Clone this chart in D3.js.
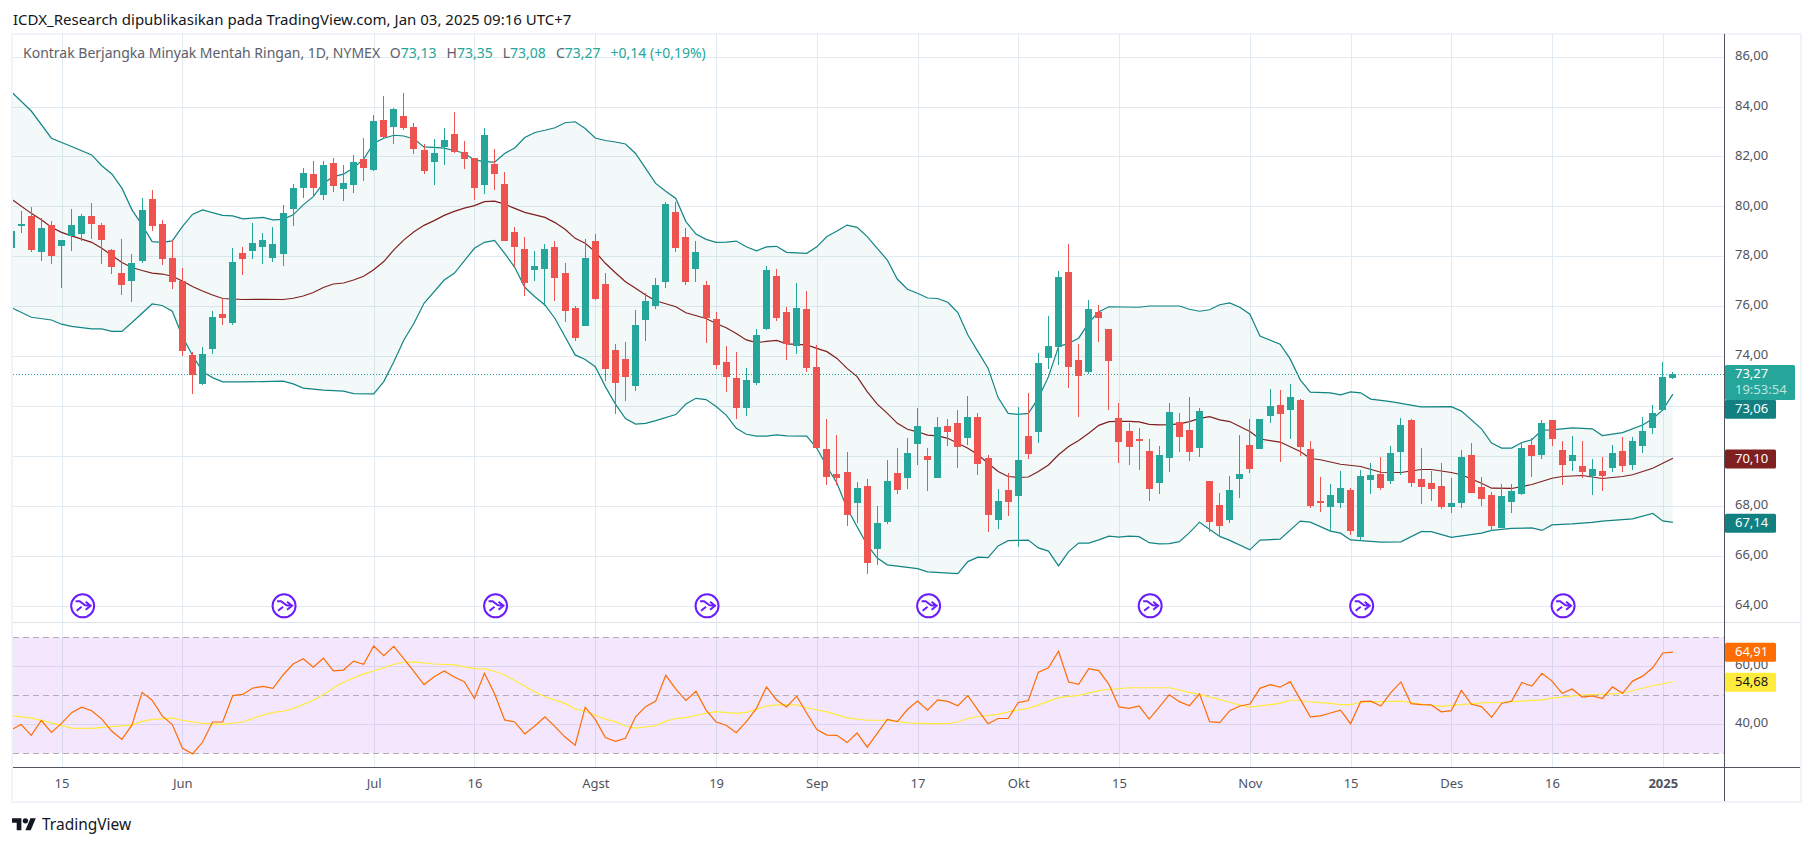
<!DOCTYPE html>
<html>
<head>
<meta charset="utf-8">
<script src="https://cdn.jsdelivr.net/npm/d3@7"></script>
<style>
  html, body { margin: 0; padding: 0; background: #fff; }
  text { font-family: "Noto Sans", sans-serif; }
</style>
</head>
<body>
<div id="chart"></div>
<script>
// daily candles, index 0 is the bar cut off by the left edge, 165 is Jan 03 2025
var opens = [78.32,79.26,79.62,78.19,79.24,78.42,78.82,78.90,79.62,79.26,78.26,77.33,77.01,77.82,80.30,79.30,77.94,77.01,74.05,72.89,
74.29,75.69,75.33,78.14,78.22,78.38,77.94,78.10,79.90,80.74,81.30,80.46,81.74,80.70,80.86,81.90,81.46,83.46,83.18,83.62,
83.18,82.26,81.78,82.38,82.90,82.18,81.94,80.86,81.70,80.89,78.97,78.29,77.45,77.49,78.37,77.33,75.93,75.21,78.61,76.89,
74.25,73.89,72.80,75.45,76.01,76.97,79.77,78.77,77.49,76.85,75.49,73.76,73.12,71.92,72.92,75.09,77.21,75.77,74.41,75.89,
73.57,70.29,69.28,69.36,68.12,68.80,66.28,67.36,69.32,69.12,70.49,70.01,69.12,71.21,71.33,70.73,71.57,69.93,67.44,68.64,
68.40,70.81,70.97,73.93,74.37,77.37,73.85,73.37,75.77,75.09,71.53,71.01,70.70,70.21,68.92,69.93,71.37,71.05,70.33,69.01,
68.05,67.44,69.09,70.45,70.29,71.61,72.05,71.85,72.25,70.29,68.19,67.97,68.13,68.65,66.76,69.05,69.29,69.01,70.17,71.45,
69.09,68.93,68.81,67.97,68.13,70.05,68.77,68.45,67.12,68.17,68.49,70.45,70.05,71.45,70.25,69.81,69.61,69.21,69.41,69.53,
70.21,69.65,70.41,71.13,71.85,73.13];
var highs = [79.20,79.82,79.97,79.52,79.40,78.66,79.89,79.68,80.13,79.32,78.30,78.70,78.08,80.34,80.66,79.46,78.66,77.54,74.16,74.37,
75.81,76.32,78.34,78.38,79.34,78.94,79.18,80.06,80.90,81.54,81.82,81.82,81.94,81.66,82.06,82.74,83.66,84.42,83.93,84.54,
83.33,82.49,82.70,83.14,83.78,82.62,81.94,83.14,82.30,81.37,79.17,78.77,78.21,78.49,78.61,77.73,76.01,78.69,78.89,77.33,
74.49,74.57,75.85,76.53,77.13,80.17,80.17,79.13,78.61,77.01,75.77,74.41,74.17,73.52,75.09,77.61,77.49,75.97,76.93,76.61,
74.45,71.49,70.85,70.17,68.96,69.08,68.00,69.85,70.33,70.73,71.93,70.33,71.57,71.49,71.85,72.41,71.73,70.05,68.68,69.32,
71.97,72.53,74.13,75.61,77.41,78.49,74.49,76.25,76.05,75.09,72.13,71.33,71.13,70.69,70.41,72.13,71.73,72.37,71.92,69.01,
68.53,69.21,70.85,71.49,71.49,72.69,72.65,72.89,72.29,70.62,69.17,68.89,69.41,68.73,69.45,69.74,69.97,70.41,71.53,71.49,
70.33,69.41,69.71,69.13,70.25,70.53,69.17,68.57,68.89,68.89,70.57,70.73,71.45,71.45,70.60,70.81,70.61,69.89,69.97,70.45,
70.77,70.77,71.57,72.05,73.77,73.35];
var lows = [78.20,78.95,78.19,77.83,77.70,76.75,78.23,78.63,78.70,77.70,77.30,76.45,76.17,77.72,79.03,77.66,76.69,74.01,72.49,72.85,
74.09,75.25,75.25,77.25,77.90,77.70,77.78,77.62,79.22,80.34,80.38,80.26,80.58,80.22,80.54,81.02,81.43,82.73,82.50,83.06,
82.10,81.30,80.86,81.66,82.14,81.50,80.26,80.50,80.66,78.61,77.58,76.41,77.01,76.01,76.21,75.37,74.61,75.21,76.25,73.00,
71.68,72.20,72.60,74.61,75.89,76.73,78.17,76.85,76.97,74.53,73.48,72.56,71.48,71.60,72.84,75.05,75.41,73.85,74.09,73.36,
70.33,68.84,68.84,67.20,67.32,65.28,65.64,67.28,68.48,68.68,69.64,68.60,69.12,70.41,69.52,70.45,69.24,66.96,67.08,67.60,
66.36,69.89,70.53,73.49,73.65,72.73,71.57,73.29,74.57,71.85,69.73,69.64,69.44,68.20,68.48,69.36,70.17,69.80,69.97,66.96,
66.76,67.32,68.33,69.33,70.29,71.33,69.77,70.69,70.01,67.93,67.77,66.96,67.93,66.84,66.60,68.49,68.65,68.89,69.25,68.77,
68.09,68.21,67.89,67.73,67.93,68.53,68.00,67.00,67.12,67.73,68.45,69.17,69.89,70.41,68.85,69.41,69.13,68.45,68.61,69.37,
69.37,69.45,70.13,70.89,71.85,73.08];
var closes = [79.02,79.30,78.26,79.14,78.02,78.66,79.24,79.62,79.30,78.66,77.58,76.85,77.73,79.86,79.22,77.90,76.97,74.21,73.26,74.09,
75.57,75.53,77.78,77.90,78.54,78.66,78.50,79.74,80.74,81.34,80.74,81.66,80.82,80.94,81.78,81.54,83.42,82.78,83.89,83.14,
82.30,81.42,82.14,82.66,82.18,81.90,80.74,82.86,81.30,78.61,78.37,76.93,77.61,78.29,77.13,75.81,74.73,77.93,76.29,73.48,
72.92,73.16,75.25,76.21,76.85,80.09,78.33,76.97,78.17,75.53,73.64,73.16,71.92,73.04,74.85,77.45,75.53,74.49,75.93,73.52,
70.33,69.16,69.12,67.64,68.72,65.72,67.32,69.00,68.64,70.13,71.21,69.85,71.17,70.97,70.37,71.57,69.68,67.64,68.20,68.16,
69.85,70.09,73.73,74.41,77.17,73.57,73.21,75.89,75.53,73.81,70.57,70.37,70.66,68.68,70.05,71.77,70.77,70.17,71.81,67.36,
67.20,68.65,69.29,69.49,71.49,72.01,71.69,72.37,70.37,68.00,68.13,68.45,68.73,67.00,69.21,69.25,68.73,70.13,71.25,68.93,
68.77,68.69,67.97,68.12,69.97,68.53,68.29,67.20,68.41,68.61,70.33,70.01,71.33,70.69,69.65,70.05,69.37,69.49,69.21,70.13,
69.61,70.61,71.01,71.73,73.17,73.27];

// bollinger lines, [bar index, price] at the corners that can be read
var bbUpper = [[0,84.6],[2,83.82],[4,82.73],[6,82.40],[8,82.06],[9,81.63],[10,81.30],[11,80.73],[12,79.86],[13,79.26],[14,78.59],[15,78.56],[16,78.62],[17,79.19],[18,79.68],[19,79.86],[21,79.64],[22,79.62],[23,79.50],[25,79.56],[26,79.46],[27,79.48],[28,79.66],[29,80.06],[30,80.39],[31,80.93],[32,81.19],[33,81.29],[34,81.55],[35,81.89],[36,82.53],[37,82.73],[38,82.85],[39,82.82],[40,82.70],[41,82.38],[42,82.36],[43,82.33],[44,82.24],[45,82.13],[46,81.86],[47,81.79],[48,81.77],
[49,82.12],[50,82.34],[51,82.76],[52,82.96],[53,83.05],[54,83.15],[55,83.35],[56,83.39],[57,83.12],[58,82.74],[59,82.64],[60,82.58],[61,82.50],[62,82.12],[63,81.52],[64,80.92],[65,80.61],[66,80.32],[67,79.39],[68,78.89],[69,78.68],[70,78.56],[71,78.57],[72,78.61],[73,78.38],[74,78.22],[75,78.38],[76,78.40],[77,78.16],[79,78.12],[80,78.38],[81,78.79],[82,79.01],[83,79.25],[84,79.16],[85,78.79],[86,78.32],[87,77.85],[88,77.08],[89,76.68],[90,76.52],[91,76.33],[92,76.31],[93,76.16],[94,75.75],[95,74.85],[96,74.18],[97,73.52],[98,72.34],[99,71.71],[100,71.67],[101,71.71],[102,72.32],[103,73.18],[104,74.38],[105,74.52],[106,74.72],[107,75.34],[108,75.78],[109,75.98],[112,75.96],[113,76.01],[116,76.01],[117,75.88],[118,75.80],[119,75.86],[120,76.06],[121,76.13],[122,75.96],[123,75.68],[124,74.81],[126,74.48],[127,73.89],[128,73.05],[129,72.56],[131,72.53],[132,72.45],[133,72.57],[134,72.53],[135,72.28],[137,72.18],[140,71.97],[143,71.98],[144,71.80],[146,71.09],[147,70.52],[148,70.32],[149,70.32],[150,70.54],[151,70.65],[152,71.04],[153,71.05],[155,71.13],[157,71.09],[158,70.82],[160,70.94],[162,71.24],[163,71.49],[164,71.85],[165,72.48]];
var bbBasis = [[0,80.3],[2,79.72],[3,79.46],[4,79.16],[5,78.96],[6,78.82],[8,78.56],[9,78.32],[11,77.75],[12,77.55],[13,77.43],[14,77.33],[15,77.29],[16,77.20],[17,77.01],[18,76.79],[19,76.61],[20,76.45],[21,76.31],[22,76.29],[23,76.27],[25,76.28],[27,76.27],[28,76.32],[29,76.41],[30,76.55],[31,76.75],[32,76.89],[33,76.93],[34,77.05],[35,77.20],[36,77.46],[37,77.79],[38,78.26],[39,78.66],[40,78.98],[41,79.24],[42,79.43],[43,79.64],[44,79.80],[45,79.93],[46,80.03],[47,80.19],[48,80.21],
[49,80.09],[50,79.92],[51,79.76],[53,79.56],[54,79.35],[55,79.08],[56,78.72],[57,78.52],[58,78.18],[59,77.72],[60,77.34],[61,76.98],[62,76.72],[63,76.45],[64,76.22],[66,75.98],[67,75.74],[69,75.51],[70,75.31],[71,75.14],[72,74.91],[73,74.65],[74,74.54],[75,74.59],[76,74.63],[77,74.49],[79,74.45],[80,74.31],[81,74.18],[82,73.91],[83,73.51],[84,73.18],[85,72.58],[86,72.08],[87,71.71],[88,71.31],[89,71.07],[90,70.97],[91,70.84],[92,70.81],[93,70.71],[94,70.51],[95,70.31],[96,70.05],[97,69.71],[98,69.38],[99,69.18],[100,69.14],[101,69.16],[102,69.38],[103,69.64],[104,70.05],[105,70.38],[106,70.62],[107,70.91],[108,71.23],[109,71.38],[110,71.39],[111,71.39],[112,71.37],[113,71.27],[114,71.25],[115,71.26],[116,71.29],[117,71.38],[118,71.51],[119,71.58],[120,71.45],[121,71.38],[123,70.98],[124,70.68],[126,70.56],[128,70.18],[129,69.90],[130,69.85],[132,69.67],[134,69.58],[136,69.35],[138,69.34],[140,69.46],[141,69.46],[143,69.34],[144,69.25],[146,68.91],[147,68.71],[149,68.70],[151,68.86],[153,69.11],[154,69.18],[156,69.22],[158,69.10],[160,69.18],[161,69.25],[163,69.51],[165,69.91]];
var bbLower = [[0,75.95],[2,75.56],[4,75.45],[5,75.28],[6,75.19],[8,75.09],[9,75.09],[10,74.99],[11,74.99],[12,75.35],[14,76.09],[15,76.03],[16,75.80],[17,74.79],[18,74.04],[19,73.38],[20,73.14],[21,72.97],[23,72.97],[25,72.98],[27,73.00],[28,72.89],[29,72.72],[31,72.64],[33,72.60],[34,72.50],[36,72.49],[37,72.98],[38,73.78],[39,74.65],[40,75.32],[41,76.12],[43,77.05],[44,77.32],[46,78.32],[47,78.56],[48,78.64],
[49,78.12],[50,77.56],[51,76.76],[52,76.38],[53,76.05],[54,75.51],[55,74.78],[56,74.05],[57,73.87],[58,73.58],[59,72.78],[60,72.08],[61,71.50],[62,71.28],[63,71.31],[64,71.42],[66,71.66],[67,72.08],[68,72.31],[69,72.26],[70,71.98],[71,71.64],[72,71.11],[73,70.87],[74,70.80],[75,70.80],[76,70.85],[77,70.81],[79,70.80],[80,70.31],[81,69.58],[82,68.91],[83,67.91],[84,67.17],[85,66.44],[86,65.91],[87,65.64],[90,65.49],[91,65.36],[94,65.29],[95,65.77],[96,65.95],[97,65.93],[98,66.40],[99,66.61],[101,66.63],[102,66.32],[103,66.19],[104,65.60],[105,66.17],[106,66.51],[107,66.51],[108,66.64],[109,66.79],[110,66.75],[111,66.79],[112,66.77],[113,66.53],[114,66.48],[115,66.49],[116,66.57],[117,66.93],[118,67.35],[120,66.78],[121,66.62],[123,66.24],[124,66.63],[126,66.67],[128,67.39],[129,67.35],[131,66.99],[132,66.91],[133,66.64],[136,66.55],[138,66.56],[140,66.97],[141,66.97],[143,66.74],[146,66.91],[147,67.02],[149,67.10],[151,67.12],[152,67.02],[153,67.24],[155,67.28],[157,67.34],[158,67.39],[161,67.48],[163,67.70],[164,67.40],[165,67.34]];

// rsi, one value per bar
var rsiValues = [38.1,39.9,36.2,41.3,37.2,40.3,44.0,45.9,44.7,41.8,37.6,34.8,39.8,51.0,48.3,42.9,39.9,31.8,29.8,33.8,
40.8,40.8,49.9,50.3,52.5,53.1,52.4,57.0,60.8,62.6,59.7,62.8,58.4,58.7,61.8,60.7,67.0,63.7,66.9,62.6,
58.2,53.7,56.4,58.4,56.3,54.7,48.9,57.6,50.5,41.5,40.8,36.7,39.4,42.6,39.2,35.6,32.8,45.9,41.7,35.4,
34.1,35.2,42.6,46.1,48.0,56.9,52.1,48.2,51.4,44.9,40.8,39.7,37.1,40.9,45.5,52.9,48.4,46.0,49.7,43.8,
38.2,36.3,36.2,33.7,37.0,32.1,36.9,41.7,40.9,45.1,48.0,44.9,48.4,47.9,46.4,49.9,44.9,40.2,42.0,42.0,
47.5,48.2,58.0,59.5,65.2,54.6,53.8,59.2,58.5,53.8,46.0,45.5,46.3,41.8,45.9,50.2,47.8,46.4,50.5,40.9,
40.6,44.7,46.3,47.0,52.4,53.7,52.8,54.7,48.6,42.6,42.9,43.9,44.9,40.2,47.8,48.0,46.3,50.9,54.6,47.1,
46.8,46.7,44.3,44.7,51.7,46.9,46.1,42.4,47.2,48.0,54.4,53.2,57.6,54.9,50.7,52.2,49.4,49.8,48.9,52.9,
50.7,54.9,56.6,59.5,64.6,64.91];
var rsiMa = [[0,43.0],[2,42.1],[4,40.5],[6,38.7],[8,38.6],[10,39.2],[12,39.7],[13,41.0],[14,41.7],[16,42.1],[17,41.4],[19,40.3],[21,40.0],[23,40.8],[25,43.2],[26,44.1],[27,44.5],[28,45.4],[30,48.3],[31,50.3],[32,52.5],[33,54.5],[35,57.4],[37,59.5],[38,60.7],[39,61.4],[40,61.5],[42,60.8],[44,60.5],[46,59.2],[47,59.1],[48,58.3],[49,57.0],[51,53.2],[52,51.1],[53,49.5],[55,47.2],[56,45.3],[57,44.4],[59,41.8],[60,40.9],[61,39.4],[62,38.7],[64,39.5],[65,41.1],[66,42.0],[67,42.3],[69,43.8],[70,44.4],[72,43.8],[73,44.1],[75,46.3],[76,46.7],[78,46.7],[79,45.7],[81,44.3],[83,42.2],[85,41.4],[87,41.4],[89,40.5],[91,40.2],[93,40.2],[94,40.8],[95,42.0],[96,42.6],[98,43.4],[99,44.3],[101,45.5],[103,47.9],[104,49.2],[106,50.0],[108,51.6],[109,52.0],[111,52.6],[113,52.6],[115,52.6],[117,51.0],[118,50.3],[119,49.4],[120,48.6],[121,47.6],[122,46.6],[123,45.9],[125,46.8],[126,47.2],[127,48.3],[128,48.3],[129,47.7],[131,47.2],[132,46.8],[133,46.8],[134,47.6],[136,47.8],[138,48.0],[140,47.0],[142,46.2],[144,46.8],[146,47.4],[148,47.6],[150,48.0],[152,48.4],[153,49.0],[156,50.1],[159,50.5],[160,50.7],[163,53.3],[165,54.68]];

var priceTicks = [64,66,68,70,72,74,76,78,80,82,84,86];
var rsiTicks = [40,60];
var rsiLevels = [70,50,30];
var timeTicks = [5,17,36,46,58,70,80,90,100,110,123,133,143,153,164];
var timeLabels = ["15","Jun","Jul","16","Agst","19","Sep","17","Okt","15","Nov","15","Des","16","2025"];
var eventBars = [7,27,48,69,91,113,134,154];

var headerText = "ICDX_Research dipublikasikan pada TradingView.com, Jan 03, 2025 09:16 UTC+7";
var legendName = "Kontrak Berjangka Minyak Mentah Ringan, 1D, NYMEX";
var legendLetters = ["O","H","L","C"];
var legendValues = ["73,13","73,35","73,08","73,27"];
var legendChange = "+0,14 (+0,19%)";

var lastPrice = 73.27;
var countdown = "19:53:54";
// tag text, level the tag sits at on its pane (tags get pushed apart so level != text)
var priceTagText = ["73,06","70,10","67,14"];
var priceTagLevel = [71.87,69.88,67.31];
var priceTagFill = ["#128080","#801f1f","#128080"];
var rsiTagText = ["64,91","54,68"];
var rsiTagLevel = [64.83,54.48];
var rsiTagFill = ["#ff6d00","#ffeb3b"];
var rsiTagInk = ["#fff","#131722"];

var up = "#26a69a", down = "#ef5350", axisInk = "#50535e", gridInk = "#e1ebf1";
var paneLeft = 13, paneRight = 1724, paneTop = 34, paneSep = 622, paneBottom = 767, frameBottom = 802, frameRight = 1801;

var fmt = d3.formatLocale({decimal:",",thousands:".",grouping:[3],currency:["",""]}).format(".2f");

var x = d3.scaleLinear().domain([5,164]).range([61.5,1662.8]);
var y = d3.scaleLinear().domain([64,86]).range([605.8,56.6]);
var yRsi = d3.scaleLinear().domain([30,70]).range([753.3,637.3]);

var svg = d3.select("#chart").append("svg")
    .attr("width",1814).attr("height",846)
    .style("display","block");

svg.append("defs").append("clipPath").attr("id","pane")
  .append("rect").attr("x",paneLeft).attr("y",paneTop).attr("width",paneRight-paneLeft).attr("height",paneBottom-paneTop);

// frame
svg.append("rect").attr("x",paneLeft-1).attr("y",paneTop).attr("width",frameRight-paneLeft+1).attr("height",frameBottom-paneTop)
    .attr("fill","none").attr("stroke","#f0f3fa").attr("stroke-width",2);

// grid
function cleanGrid(g){
  g.select(".domain").remove();
  g.selectAll("line").attr("stroke",gridInk).attr("shape-rendering","crispEdges");
}
svg.append("g").attr("transform","translate("+paneLeft+",0)")
    .call(d3.axisRight(y).tickValues(priceTicks).tickSize(paneRight-paneLeft).tickFormat(""))
    .call(cleanGrid);
svg.append("g").attr("transform","translate("+paneLeft+",0)")
    .call(d3.axisRight(yRsi).tickValues(rsiTicks).tickSize(paneRight-paneLeft).tickFormat(""))
    .call(cleanGrid);
svg.append("g").attr("transform","translate(0,"+paneBottom+")")
    .call(d3.axisTop(x).tickValues(timeTicks).tickSize(paneBottom-paneTop).tickFormat(""))
    .call(cleanGrid);

// bollinger fill + lines
var chart = svg.append("g").attr("clip-path","url(#pane)");
var pl = d3.line().x(function(d){return x(d[0])}).y(function(d){return y(d[1])});
chart.append("path")
    .attr("d",pl(bbUpper.concat(bbLower.slice().reverse()))+"Z")
    .attr("fill","#138484").attr("fill-opacity",0.05);
chart.append("path").attr("d",pl(bbBasis)).attr("fill","none").attr("stroke","#801f1f").attr("stroke-width",1.2);
chart.append("path").attr("d",pl(bbUpper)).attr("fill","none").attr("stroke","#138484").attr("stroke-width",1.2);
chart.append("path").attr("d",pl(bbLower)).attr("fill","none").attr("stroke","#138484").attr("stroke-width",1.2);

// last price line
chart.append("line").attr("x1",paneLeft).attr("x2",paneRight).attr("y1",y(lastPrice)).attr("y2",y(lastPrice))
    .attr("stroke",up).attr("stroke-width",1).attr("stroke-dasharray","1 2").attr("shape-rendering","crispEdges");

// candles
var bars = chart.append("g").selectAll("g").data(d3.range(opens.length)).enter().append("g")
    .attr("fill",function(i){return closes[i]>=opens[i]?up:down})
    .attr("shape-rendering","crispEdges");
bars.append("rect")
    .attr("x",function(i){return Math.floor(x(i))})
    .attr("width",1)
    .attr("y",function(i){return y(highs[i])})
    .attr("height",function(i){return y(lows[i])-y(highs[i])});
bars.append("rect")
    .attr("x",function(i){return Math.floor(x(i))-3})
    .attr("width",7)
    .attr("y",function(i){return y(Math.max(opens[i],closes[i]))})
    .attr("height",function(i){return Math.max(2,Math.abs(y(opens[i])-y(closes[i])))});

// event markers
var ev = svg.append("g").selectAll("g").data(eventBars).enter().append("g")
    .attr("transform",function(i){return "translate("+(x(i)+1)+","+y(64)+")"});
ev.append("circle").attr("r",11.5).attr("fill","#fff").attr("stroke","#6a1bff").attr("stroke-width",2);
ev.append("path").attr("d","M-7,-4.5L-3,-4.5L2.5,-0.5L8,0M3,-4L8,0L3,4M-6,5L-1,1")
    .attr("fill","none").attr("stroke","#6a1bff").attr("stroke-width",2);

// rsi pane
var rsiPane = svg.append("g").attr("clip-path","url(#pane)");
rsiPane.append("rect").attr("x",paneLeft).attr("width",paneRight-paneLeft)
    .attr("y",yRsi(70)).attr("height",yRsi(30)-yRsi(70))
    .attr("fill","#9105eb").attr("fill-opacity",0.1);
rsiPane.selectAll("line.level").data(rsiLevels).enter().append("line")
    .attr("class","level").attr("x1",paneLeft).attr("x2",paneRight)
    .attr("y1",function(d){return yRsi(d)}).attr("y2",function(d){return yRsi(d)})
    .attr("stroke","#b2adb8").attr("stroke-dasharray","6 4").attr("shape-rendering","crispEdges");
var rl = d3.line().x(function(d){return x(d[0])}).y(function(d){return yRsi(d[1])});
rsiPane.append("path").attr("d",rl(rsiMa)).attr("fill","none").attr("stroke","#ffeb3b").attr("stroke-width",1.2);
rsiPane.append("path").attr("d",rl(rsiValues.map(function(v,i){return [i,v]}))).attr("fill","none").attr("stroke","#ff6d00").attr("stroke-width",1.2);

// pane separators
svg.append("line").attr("x1",paneLeft).attr("x2",frameRight-1).attr("y1",paneSep+0.5).attr("y2",paneSep+0.5).attr("stroke","#e0e3eb");
svg.append("line").attr("x1",paneLeft).attr("x2",frameRight-1).attr("y1",paneBottom+0.5).attr("y2",paneBottom+0.5).attr("stroke",axisInk);
svg.append("line").attr("x1",paneRight+0.5).attr("x2",paneRight+0.5).attr("y1",paneTop).attr("y2",frameBottom-1).attr("stroke",axisInk);

// axes text
function cleanAxis(g){
  g.select(".domain").remove();
  g.selectAll("line").remove();
  g.selectAll("text").attr("fill",axisInk).style("font-size","13px");
}
svg.append("g").attr("transform","translate("+(paneRight+11)+",-1.5)")
    .call(d3.axisRight(y).tickValues(priceTicks).tickSize(0).tickPadding(0).tickFormat(fmt))
    .call(cleanAxis);
svg.append("g").attr("transform","translate("+(paneRight+11)+",-1.5)")
    .call(d3.axisRight(yRsi).tickValues(rsiTicks).tickSize(0).tickPadding(0).tickFormat(fmt))
    .call(cleanAxis);
svg.append("g").attr("transform","translate(0,"+(paneBottom+9)+")")
    .call(d3.axisBottom(x).tickValues(timeTicks).tickSize(0).tickPadding(3)
      .tickFormat(function(d){return timeLabels[timeTicks.indexOf(d)]}))
    .call(cleanAxis)
    .selectAll("text").filter(function(d){return d==164}).style("font-weight","700");

// price tags
function tag(g,cy,w,h,fill,label,ink){
  g.append("rect").attr("x",paneRight+1).attr("y",cy-h/2).attr("width",w).attr("height",h).attr("rx",1.5).attr("fill",fill);
  g.append("text").attr("x",paneRight+11).attr("y",cy-0.5).attr("dy","0.35em").attr("fill",ink).style("font-size","13px").text(label);
}
var tags = svg.append("g");
priceTagText.forEach(function(t,k){ tag(tags,y(priceTagLevel[k]),51,19,priceTagFill[k],t,"#fff") });
rsiTagText.forEach(function(t,k){ tag(tags,yRsi(rsiTagLevel[k]),51,19,rsiTagFill[k],t,rsiTagInk[k]) });

// last price tag with the countdown under it
var ly = y(lastPrice);
tags.append("rect").attr("x",paneRight+1).attr("y",ly-9.5).attr("width",70).attr("height",35).attr("rx",1.5).attr("fill",up);
tags.append("text").attr("x",paneRight+11).attr("y",ly-1).attr("dy","0.35em").attr("fill","#fff").style("font-size","13px").text(fmt(lastPrice));
tags.append("text").attr("x",paneRight+11).attr("y",ly+15).attr("dy","0.35em").attr("fill","#fff").attr("fill-opacity",0.7).style("font-size","13px").text(countdown);

// header and legend
svg.append("text").attr("x",13).attr("y",25).attr("fill","#131722").style("font-size","15px").text(headerText);

var legend = svg.append("text").attr("x",23).attr("y",58).style("font-size","14px").attr("fill","#5d606b");
legend.append("tspan").text(legendName);
legendLetters.forEach(function(l,k){
  legend.append("tspan").attr("dx",k==0?10:10).text(l);
  legend.append("tspan").attr("fill",up).text(legendValues[k]);
});
legend.append("tspan").attr("dx",10).attr("fill",up).text(legendChange);

// logo
var logo = svg.append("g").attr("transform","translate(12,815.5) scale(0.67)").attr("fill","#131722");
logo.append("path").attr("d","M14 22H7V11H0V4h14v18zM28 22h-8l7.5-18h8L28 22z");
logo.append("circle").attr("cx",20).attr("cy",8).attr("r",4);
svg.append("text").attr("x",42).attr("y",830).attr("fill","#131722").style("font-size","15.5px").text("TradingView");
</script>
</body>
</html>
